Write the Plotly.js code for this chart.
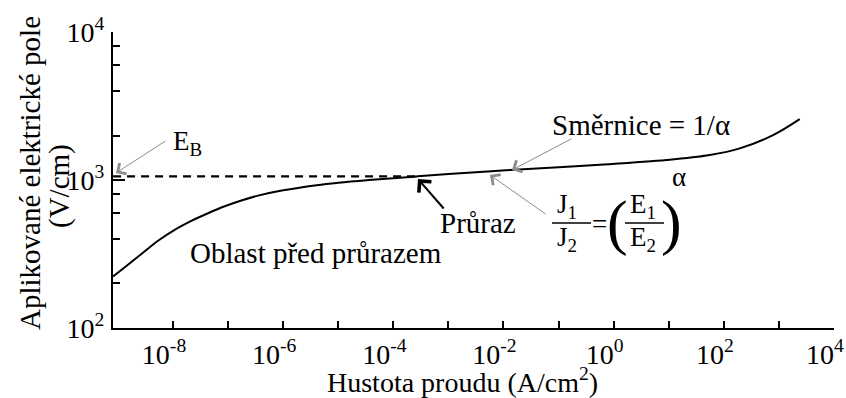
<!DOCTYPE html>
<html>
<head>
<meta charset="utf-8">
<script src="https://cdn.plot.ly/plotly-3.0.1.min.js"></script>
<style>
  html, body { margin: 0; padding: 0; background: #fff; }
  #chart { width: 846px; height: 398px; }
</style>
</head>
<body>
<div id="chart"></div>
<script>
// Field vs. current density (log–log): pre-breakdown region, breakdown, power-law region
const currentDensity = [8.15e-10, 1.52e-9, 2.66e-9, 5.35e-9, 1.07e-8, 2.15e-8, 4.32e-8, 8.67e-8,
                        1.74e-7, 3.49e-7, 1.0e-6, 4.06e-6, 1.0e-5, 3.27e-5, 1.0e-4, 2.65e-4,
                        1.0e-3, 1.31e-2, 0.1, 0.562, 9.12, 55.7, 195, 785, 2393];
const appliedField = [223, 268, 316, 389, 461, 530, 597, 665,
                      728, 785, 853, 923, 959, 998, 1030, 1059,
                      1099, 1169, 1222, 1268, 1365, 1476, 1637, 2014, 2582];

// Breakdown field E_B and the current density where the curve reaches it
const breakdownField = 1059;
const breakdownCurrent = 2.65e-4;

// Axis ticks
const xTickVals = [1e-8, 1e-7, 1e-6, 1e-5, 1e-4, 1e-3, 1e-2, 1e-1, 1e0, 1e1, 1e2, 1e3, 1e4];
const xTickText = ['10<sup>-8</sup>', '', '10<sup>-6</sup>', '', '10<sup>-4</sup>', '',
                   '10<sup>-2</sup>', '', '10<sup>0</sup>', '', '10<sup>2</sup>', '', '10<sup>4</sup>'];
const yTickVals = [1e2, 1e3, 1e4];
const yTickText = ['10<sup>2</sup>', '10<sup>3</sup>', '10<sup>4</sup>'];
const yMinorVals = [200, 400, 600, 800, 2000, 4000, 6000, 8000];

// Page geometry, used to place the annotation text in pixels
const W = 846, H = 398;
const M = { l: 113, r: 12, t: 32, b: 70 };
const plotW = W - M.l - M.r, plotH = H - M.t - M.b;
const px = x => (x - M.l) / plotW;
const py = y => (H - M.b - y) / plotH;

const SERIF = 'Liberation Serif, Times New Roman, serif';

function label(text, x, y, size, extra) {
  return Object.assign({
    text: text, xref: 'paper', yref: 'paper', x: px(x), y: py(y),
    showarrow: false, xanchor: 'center', yanchor: 'middle', borderpad: 0,
    font: { family: SERIF, size: size, color: '#000' }
  }, extra || {});
}

function pointer(xHead, yHead, xTail, yTail, color, width, size) {
  return {
    text: '', xref: 'paper', yref: 'paper', x: px(xHead), y: py(yHead),
    ax: xTail - xHead, ay: yTail - yHead,
    showarrow: true, arrowhead: 4, arrowsize: size, arrowwidth: width, arrowcolor: color
  };
}

function bar(x0, x1, y) {
  return { type: 'line', xref: 'paper', yref: 'paper', x0: px(x0), x1: px(x1), y0: py(y), y1: py(y),
           line: { color: '#000', width: 1.5 } };
}

const traces = [
  { // E_B level up to the breakdown point
    x: [currentDensity[0], breakdownCurrent], y: [breakdownField, breakdownField],
    mode: 'lines', line: { color: '#000', width: 2.2, dash: '8px,6px' }, hoverinfo: 'skip'
  },
  { // measured characteristic
    x: currentDensity, y: appliedField,
    mode: 'lines', line: { color: '#000', width: 2, shape: 'spline', smoothing: 1 }, hoverinfo: 'skip'
  }
];

const axisCommon = {
  type: 'log', showgrid: false, zeroline: false,
  showline: true, linecolor: '#000', linewidth: 2,
  ticks: 'inside', tickwidth: 2, tickcolor: '#000',
  tickmode: 'array',
  tickfont: { family: SERIF, size: 28, color: '#000' }
};

const layout = {
  width: W, height: H, margin: M,
  paper_bgcolor: '#fff', plot_bgcolor: '#fff',
  showlegend: false,
  font: { family: SERIF, color: '#000' },
  xaxis: Object.assign({}, axisCommon, {
    range: [-9.09, 4.001], tickvals: xTickVals, ticktext: xTickText,
    ticklen: 7, ticklabelshift: -9, ticklabelstandoff: 0
  }),
  yaxis: Object.assign({}, axisCommon, {
    range: [2, 4.001], tickvals: yTickVals, ticktext: yTickText,
    ticklen: 12, ticklabelstandoff: 1,
    minor: { tickmode: 'array', tickvals: yMinorVals, ticks: 'inside', ticklen: 7,
             tickwidth: 2, tickcolor: '#000', showgrid: false }
  }),
  shapes: [
    bar(552, 591, 223),   // J1 / J2
    bar(625, 664, 223)    // E1 / E2
  ],
  annotations: [
    // axis titles
    label('Hustota proudu (A/cm<sup>2</sup>)', 462, 381, 28),
    label('Aplikované elektrické pole', 30, 173, 29, { textangle: -90 }),
    label('(V/cm)', 59, 186, 29, { textangle: -90 }),

    // region / point labels
    label('E<sub>B</sub>', 172, 143, 27, { xanchor: 'left' }),
    pointer(116, 173, 167, 140, '#8c8c8c', 1, 2.5),

    label('Směrnice = 1/α', 551, 125, 29, { xanchor: 'left' }),
    pointer(512, 170, 573, 138, '#8c8c8c', 1, 2.5),

    label('Průraz', 478, 223, 29),
    pointer(418, 179, 445, 210, '#000', 2, 1.6),

    label('Oblast před průrazem', 189, 253, 29, { xanchor: 'left' }),

    // J1/J2 = (E1/E2)^α
    label('J<sub>1</sub>', 567, 206, 27),
    label('J<sub>2</sub>', 567, 239, 27),
    label('=', 599, 224, 27),
    label('(', 617, 222, 62),
    label('E<sub>1</sub>', 643, 206, 27),
    label('E<sub>2</sub>', 643, 239, 27),
    label(')', 671, 222, 62),
    label('α', 679, 177, 27),
    pointer(490, 175, 547, 215, '#8c8c8c', 1, 2.5)
  ]
};

Plotly.newPlot('chart', traces, layout, { staticPlot: true, displayModeBar: false });
</script>
</body>
</html>
